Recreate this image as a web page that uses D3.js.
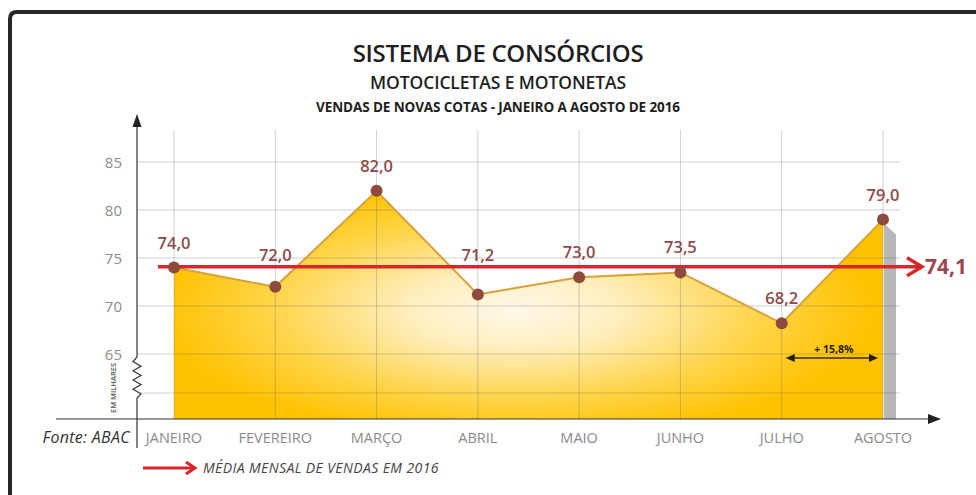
<!DOCTYPE html>
<html>
<head>
<meta charset="utf-8">
<script src="https://cdn.jsdelivr.net/npm/d3@7"></script>
<style>
  body { margin: 0; background: #fff; }
  svg { display: block; }
  text { font-family: "Open Sans", sans-serif; }
</style>
</head>
<body>
<div id="chart"></div>
<script>
// Chart data
const months = ["JANEIRO", "FEVEREIRO", "MARÇO", "ABRIL", "MAIO", "JUNHO", "JULHO", "AGOSTO"];
const sales = [74.0, 72.0, 82.0, 71.2, 73.0, 73.5, 68.2, 79.0];
const monthlyAverage = 74.1;
const yTicks = [65, 70, 75, 80, 85];
const growthLabel = "+ 15,8%";
const titleLines = [
  "SISTEMA DE CONSÓRCIOS",
  "MOTOCICLETAS E MOTONETAS",
  "VENDAS DE NOVAS COTAS - JANEIRO A AGOSTO DE 2016"
];
const sourceLabel = "Fonte: ABAC";
const unitLabel = "EM MILHARES";
const legendLabel = "MÉDIA MENSAL DE VENDAS EM 2016";

// Layout
const width = 976;
const height = 495;
const axisX = 137;
const baseY = 419;
const breakGridY = 393;
const gridTop = 130;
const gridRight = 900;

const x = d3.scalePoint().domain(months).range([174, 883]);
const y = d3.scaleLinear().domain([65, 85]).range([354, 162]);
const fmt = (v) => d3.format(".1f")(v).replace(".", ",");

const data = months.map((m, i) => ({ month: m, value: sales[i] }));

const svg = d3
  .select("#chart")
  .append("svg")
  .attr("width", width)
  .attr("height", height);

svg.append("rect").attr("width", width).attr("height", height).attr("fill", "#fff");

// Frame with rounded top-left corner
svg
  .append("path")
  .attr("d", `M10,${height + 5} L10,19 Q10,12 17,12 L${width + 5},12`)
  .attr("fill", "none")
  .attr("stroke", "#262626")
  .attr("stroke-width", 4);

const defs = svg.append("defs");
const grad = defs
  .append("radialGradient")
  .attr("id", "areaFill")
  .attr("gradientUnits", "userSpaceOnUse")
  .attr("cx", 0)
  .attr("cy", 0)
  .attr("r", 1)
  .attr("gradientTransform", "translate(515,310) scale(360,130)");
grad.append("stop").attr("offset", 0).attr("stop-color", "#fff8ea");
grad.append("stop").attr("offset", 0.3).attr("stop-color", "#ffeebd");
grad.append("stop").attr("offset", 0.7).attr("stop-color", "#ffd343");
grad.append("stop").attr("offset", 1).attr("stop-color", "#ffc200");

// Titles
const titleSizes = [24, 17.5, 13.5];
const titleBase = [62, 89, 112];
const titleWeights = [600, 600, 700];
const titleSpacing = [-0.3, -0.1, -0.1];
titleLines.forEach((t, i) => {
  svg
    .append("text")
    .attr("x", 498)
    .attr("y", titleBase[i])
    .attr("text-anchor", "middle")
    .attr("font-size", titleSizes[i])
    .attr("font-weight", titleWeights[i])
    .attr("letter-spacing", titleSpacing[i])
    .attr("fill", "#1e1e1e")
    .text(t);
});

// Gray shadow behind the last month
const last = data[data.length - 1];
svg
  .append("path")
  .attr(
    "d",
    `M${x(last.month) + 1},${y(last.value) + 4} L${x(last.month) + 13},${y(last.value) + 15} L${x(last.month) + 13},${baseY} L${x(last.month) + 1},${baseY}Z`
  )
  .attr("fill", "#b7b7b7");

// Area
const area = d3
  .area()
  .x((d) => x(d.month))
  .y0(baseY)
  .y1((d) => y(d.value));

svg.append("path").datum(data).attr("d", area).attr("fill", "url(#areaFill)");

// Grid
const grid = svg.append("g").attr("stroke", "#5a5a5a").attr("stroke-opacity", 0.28);
grid
  .selectAll("line.h")
  .data(yTicks)
  .enter()
  .append("line")
  .attr("x1", axisX)
  .attr("x2", gridRight)
  .attr("y1", (d) => y(d))
  .attr("y2", (d) => y(d));
grid
  .append("line")
  .attr("x1", axisX)
  .attr("x2", gridRight)
  .attr("y1", breakGridY)
  .attr("y2", breakGridY);
grid
  .selectAll("line.v")
  .data(months)
  .enter()
  .append("line")
  .attr("x1", (d) => x(d))
  .attr("x2", (d) => x(d))
  .attr("y1", gridTop)
  .attr("y2", baseY);

// Area outline
svg
  .append("path")
  .datum(data)
  .attr("d", d3.line().x((d) => x(d.month)).y((d) => y(d.value)))
  .attr("fill", "none")
  .attr("stroke", "#d9a13a")
  .attr("stroke-width", 2);

// Y axis with break squiggle
const breakTop = y(65) + 3;
const zig = [[axisX, 122], [axisX, breakTop]];
for (let i = 1; i <= 8; i++) {
  zig.push([axisX + (i % 2 ? -4 : 4), breakTop + i * 4.6]);
}
zig.push([axisX, breakTop + 41], [axisX, 448]);
svg
  .append("path")
  .attr("d", d3.line()(zig))
  .attr("fill", "none")
  .attr("stroke", "#333")
  .attr("stroke-width", 1.2);
svg
  .append("path")
  .attr("d", `M${axisX},114 L${axisX - 4.5},127 L${axisX + 4.5},127Z`)
  .attr("fill", "#222");

// X axis
svg
  .append("line")
  .attr("x1", 56)
  .attr("x2", 930)
  .attr("y1", baseY)
  .attr("y2", baseY)
  .attr("stroke", "#333")
  .attr("stroke-width", 1.2);
svg
  .append("path")
  .attr("d", `M941,${baseY} L928,${baseY - 5} L928,${baseY + 5}Z`)
  .attr("fill", "#222");

// Y tick labels
svg
  .selectAll("text.ytick")
  .data(yTicks)
  .enter()
  .append("text")
  .attr("x", 122)
  .attr("y", (d) => y(d) + 5.5)
  .attr("text-anchor", "end")
  .attr("font-size", 15)
  .attr("fill", "#8c8c8c")
  .text((d) => d);

// X labels
svg
  .selectAll("text.xlab")
  .data(months)
  .enter()
  .append("text")
  .attr("x", (d) => x(d))
  .attr("y", 443)
  .attr("text-anchor", "middle")
  .attr("font-size", 14.5)
  .attr("fill", "#8a8a8a")
  .text((d) => d);

// Unit label
svg
  .append("text")
  .attr("transform", "translate(116,388) rotate(-90)")
  .attr("text-anchor", "middle")
  .attr("font-size", 7.5)
  .attr("font-weight", 600)
  .attr("fill", "#555")
  .text(unitLabel);

// Source
svg
  .append("text")
  .attr("x", 130)
  .attr("y", 443)
  .attr("text-anchor", "end")
  .attr("font-size", 16)
  .attr("font-style", "italic")
  .attr("letter-spacing", 0.3)
  .attr("fill", "#333")
  .text(sourceLabel);

// Average line
const avgY = y(monthlyAverage);
svg
  .append("line")
  .attr("x1", 158)
  .attr("x2", 921)
  .attr("y1", avgY)
  .attr("y2", avgY)
  .attr("stroke", "#d7262c")
  .attr("stroke-width", 3.5);
svg
  .append("path")
  .attr("d", `M907,${avgY - 9} L922,${avgY} L907,${avgY + 9}`)
  .attr("fill", "none")
  .attr("stroke", "#d7262c")
  .attr("stroke-width", 3.5);
svg
  .append("text")
  .attr("x", 925)
  .attr("y", avgY + 7.5)
  .attr("font-size", 21)
  .attr("font-weight", 700)
  .attr("fill", "#9b4652")
  .text(fmt(monthlyAverage));

// Points and value labels
svg
  .selectAll("circle.pt")
  .data(data)
  .enter()
  .append("circle")
  .attr("cx", (d) => x(d.month))
  .attr("cy", (d) => y(d.value))
  .attr("r", 6)
  .attr("fill", "#8e4a3c");

// label centre sits above the point, lifted clear of the average line if needed
function labelCenter(d) {
  let c = y(d.value) - 25;
  if (Math.abs(c - avgY) < 10) c = avgY - 12;
  return c;
}
svg
  .selectAll("text.val")
  .data(data)
  .enter()
  .append("text")
  .attr("x", (d) => x(d.month))
  .attr("y", (d) => labelCenter(d) + 6)
  .attr("text-anchor", "middle")
  .attr("font-size", 16.5)
  .attr("font-weight", 600)
  .attr("fill", "#8c4b4b")
  .text((d) => fmt(d.value));

// Growth annotation between the last two months
const gx1 = x(months[6]) + 4;
const gx2 = x(months[7]) - 5;
const gy = 358;
svg
  .append("line")
  .attr("x1", gx1 + 6)
  .attr("x2", gx2 - 6)
  .attr("y1", gy)
  .attr("y2", gy)
  .attr("stroke", "#3a2a00")
  .attr("stroke-width", 1.3);
svg
  .append("path")
  .attr("d", `M${gx1},${gy} L${gx1 + 9},${gy - 4} L${gx1 + 9},${gy + 4}Z M${gx2},${gy} L${gx2 - 9},${gy - 4} L${gx2 - 9},${gy + 4}Z`)
  .attr("fill", "#2a1c00");
svg
  .append("text")
  .attr("x", (gx1 + gx2) / 2 + 2)
  .attr("y", gy - 5)
  .attr("text-anchor", "middle")
  .attr("font-size", 10.5)
  .attr("font-weight", 700)
  .attr("fill", "#2a1c00")
  .text(growthLabel);

// Legend
const ly = 468;
svg
  .append("line")
  .attr("x1", 143)
  .attr("x2", 194)
  .attr("y1", ly)
  .attr("y2", ly)
  .attr("stroke", "#d7262c")
  .attr("stroke-width", 3);
svg
  .append("path")
  .attr("d", `M186,${ly - 6} L195,${ly} L186,${ly + 6}`)
  .attr("fill", "none")
  .attr("stroke", "#d7262c")
  .attr("stroke-width", 3);
svg
  .append("text")
  .attr("x", 203)
  .attr("y", ly + 5)
  .attr("font-size", 14)
  .attr("font-style", "italic")
  .attr("letter-spacing", 0.4)
  .attr("fill", "#444")
  .text(legendLabel);
</script>
</body>
</html>
